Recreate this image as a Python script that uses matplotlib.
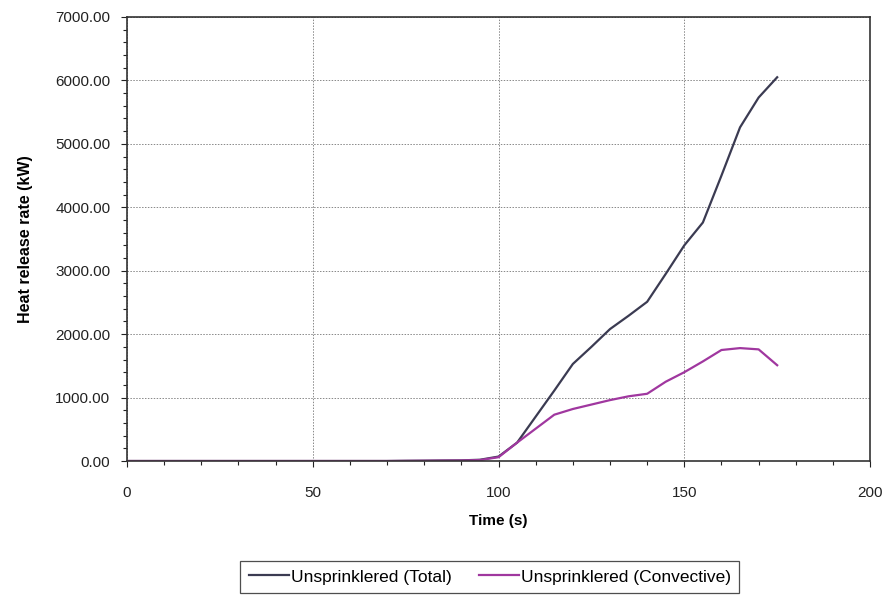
import matplotlib
matplotlib.use("Agg")
import matplotlib.pyplot as plt
from matplotlib.ticker import MultipleLocator, FormatStrFormatter

plt.rcParams['font.family'] = ['Liberation Sans', 'DejaVu Sans']

time_s = [0, 5, 10, 15, 20, 25, 30, 35, 40, 45, 50, 55, 60, 65, 70, 75, 80, 85,
          90, 95, 100, 105, 110, 115, 120, 125, 130, 135, 140, 145, 150, 155,
          160, 165, 170, 175]
total_kw = [0, 0, 0, 0, 0, 0, 0, 0, 0, 0, 0, 0, 0, 0, 0, 3, 5, 8,
            10, 20, 70, 290, 700, 1110, 1530, 1800, 2080, 2290, 2510, 2950, 3400, 3760,
            4500, 5260, 5730, 6050]
convective_kw = [0, 0, 0, 0, 0, 0, 0, 0, 0, 0, 0, 0, 0, 0, 0, 2, 4, 6,
                 8, 15, 60, 290, 510, 730, 820, 890, 960, 1020, 1060, 1250, 1400, 1570,
                 1750, 1780, 1760, 1510]
series_labels = ['Unsprinklered (Total)', 'Unsprinklered (Convective)']

fig = plt.figure(figsize=(8.89, 5.96), dpi=100)
ax = fig.add_axes([0.1429, 0.2265, 0.8358, 0.745])

l1, = ax.plot(time_s, total_kw, color='#3b3b52', lw=1.6, label=series_labels[0])
l2, = ax.plot(time_s, convective_kw, color='#a0379f', lw=1.6, label=series_labels[1])

ax.set_xlim(0, 200)
ax.set_ylim(0, 7000)
ax.xaxis.set_major_locator(MultipleLocator(50))
ax.xaxis.set_minor_locator(MultipleLocator(10))
ax.yaxis.set_major_locator(MultipleLocator(1000))
ax.yaxis.set_minor_locator(MultipleLocator(200))
ax.yaxis.set_major_formatter(FormatStrFormatter('%.2f'))

ax.grid(True, which='major', color='#888888', linestyle=(0, (1.5, 1.5)), linewidth=0.7)
ax.tick_params(which='both', direction='out', labelsize=11, colors='#222222')
ax.tick_params(which='major', length=4, width=0.8)
ax.tick_params(axis='y', which='major', pad=8)
ax.tick_params(axis='x', which='major', pad=14)
ax.tick_params(which='minor', length=3, width=0.8)
for s in ax.spines.values():
    s.set_color('#333333')
    s.set_linewidth(1.2)

ax.set_xlabel('Time (s)', fontsize=11, fontweight='bold', labelpad=10)
ax.set_ylabel('Heat release rate (kW)', fontsize=11.5, fontweight='bold', labelpad=16)

leg = fig.legend(handles=[l1, l2], loc='center', bbox_to_anchor=(0.551, 0.032), ncol=2,
                 frameon=True, fancybox=False, edgecolor='#222222', fontsize=12.5,
                 handlelength=2.3, handletextpad=0.1, columnspacing=1.6,
                 borderpad=0.5)
leg.get_frame().set_linewidth(0.9)

fig.savefig('out.png', dpi=100)
